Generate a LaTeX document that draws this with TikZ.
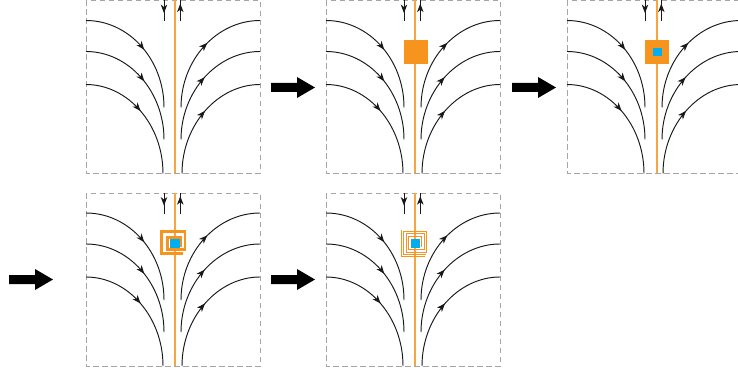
\documentclass[tikz,border=0pt]{standalone}
\usetikzlibrary{arrows.meta,decorations.markings}
\definecolor{orng}{RGB}{247,148,30}
\definecolor{cyanb}{RGB}{0,174,239}
\definecolor{dashgray}{RGB}{165,165,165}
\tikzset{
  panelbox/.style={draw=dashgray, line width=0.8pt, dash pattern=on 5.5pt off 3.5pt},
  flow/.style={draw=black!90, line width=0.95pt},
  midarrow/.style={postaction={decorate}, decoration={markings, mark=at position #1 with {\arrow{Stealth[length=8.5pt,width=6.5pt,inset=2.5pt]}}}},
  axisline/.style={draw=orng!85, line width=1.3pt},
  coilthick/.style={draw=orng, line width=2.2pt, line join=miter},
  coilthin/.style={draw=orng, line width=0.65pt, line join=miter},
  panel/.pic={
    \draw[panelbox] (0,0) rectangle (174,173);
    \draw[flow,midarrow=0.52] (0,20) .. controls (43,20) and (78,59) .. (78,107);
    \draw[flow,midarrow=0.52] (0,51) .. controls (43,51) and (78,91) .. (78,139);
    \draw[flow,midarrow=0.48] (0,84) .. controls (42,84) and (77,124) .. (77,173);
    \draw[flow,midarrow=0.55] (95,107) .. controls (95,59) and (131,20) .. (174,20);
    \draw[flow,midarrow=0.52] (95,139) .. controls (95,91) and (131,51) .. (174,51);
    \draw[flow,midarrow=0.52] (96,173) .. controls (96,124) and (132,84) .. (174,84);
    \draw[flow,midarrow=0.6] (78,0) -- (78,21);
    \draw[flow,midarrow=0.85] (94.3,21) -- (94.3,0);
  },
  blockarrow/.pic={
    \fill[black] (0,-4.5) -- (26,-4.5) -- (26,-10.5) -- (44,0) -- (26,10.5) -- (26,4.5) -- (0,4.5) -- cycle;
  }
}
\begin{document}
\begin{tikzpicture}[x=1pt,y=-1pt]
\useasboundingbox (0,0) rectangle (738,374);
\begin{scope}
\clip (0,0) rectangle (738,374);
% panels
\pic at (86,0.5) {panel};
\pic at (326,0.5) {panel};
\pic at (567,0.5) {panel};
\pic at (86,193) {panel};
\pic at (326,193) {panel};
\end{scope}
% orange axis lines
\draw[axisline] (175,0.5) -- (175,173.5);
\draw[axisline] (415,0.5) -- (415,173.5);
\draw[axisline] (657,0.5) -- (657,173.5);
\draw[axisline] (175,193) -- (175,366);
\draw[axisline] (415,193) -- (415,366);
% block arrows
\pic at (271,87.5) {blockarrow};
\pic at (512,87.5) {blockarrow};
\pic at (9,279.5) {blockarrow};
\pic at (271,279.5) {blockarrow};
% panel 2: orange block
\fill[orng] (403.5,40) rectangle (428,64.5);
% panel 3: orange block with blue core
\fill[orng] (644.5,40) rectangle (669,64.5);
\fill[cyanb] (653,47.7) rectangle (661.5,56);
% panel 4: thick coil
\fill[cyanb] (170,238.5) rectangle (180,248);
\draw[coilthick] (181,247) -- (181,237.5) -- (167.5,237.5) -- (167.5,249.5) -- (185,249.5) -- (185,231.5) -- (161.5,231.5) -- (161.5,253.5) -- (183,253.5);
% panel 5: fine coil
\fill[cyanb] (410.5,238.5) rectangle (420,248);
\draw[coilthin] (421.5,247) -- (421.5,236) -- (408.5,236) -- (408.5,249.5) -- (424,249.5) -- (424,233.5) -- (406,233.5) -- (406,252) -- (426.5,252) -- (426.5,231) -- (403.5,231) -- (403.5,254.5) -- (426,254.5);
\draw[coilthin] (401,230) -- (401,256.5) -- (425,256.5);
\end{tikzpicture}
\end{document}
